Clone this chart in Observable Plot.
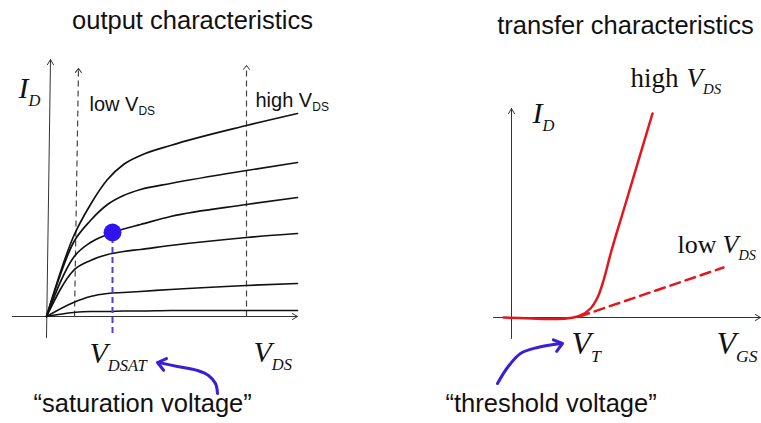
<!DOCTYPE html>
<html>
<head>
<meta charset="utf-8">
<script src="https://cdn.jsdelivr.net/npm/d3@7"></script>
<script src="https://cdn.jsdelivr.net/npm/@observablehq/plot@0.6"></script>
<style>
  html, body { margin: 0; padding: 0; background: #fff; }
  #fig { position: relative; width: 761px; height: 423px; overflow: hidden; background: #fff; }
  #fig svg { position: absolute; top: 0; background: transparent; }
</style>
</head>
<body>
<div id="fig"></div>
<script>
// ---- Output characteristics: I_D vs V_DS, one curve per gate drive ----
const vds = [0, 0.54, 0.88, 1.22, 1.54, 1.88, 2.48, 4.0, 5.02];
const idGate6 = [0, 1.60, 2.24, 2.74, 3.04, 3.22, 3.42, 3.82, 4.06];
const idGate5 = [0, 1.48, 1.92, 2.24, 2.42, 2.54, 2.66, 2.92, 3.08];
const idGate4 = [0, 1.18, 1.48, 1.64, 1.75, 1.84, 2.00, 2.24, 2.38];
const idGate3 = [0, 0.92, 1.12, 1.24, 1.30, 1.34, 1.42, 1.58, 1.66];
const idGate2 = [0, 0.28, 0.40, 0.46, 0.48, 0.50, 0.54, 0.62, 0.66];
const idGate1 = [0, 0.08, 0.10, 0.10, 0.11, 0.11, 0.12, 0.12, 0.12];
const vdsat = 1.32;   // saturation point on the middle curve
const idsat = 1.68;
const vdsLow = 0.6;
const vdsHigh = 4.0;

// ---- Transfer characteristics: I_D vs V_GS ----
const vgsHigh = [-0.16, 0.4, 0.9, 1.18, 1.38, 1.58, 1.72, 1.84, 2.0, 2.3, 2.82];
const idHigh = [0.0, -0.02, -0.03, -0.01, 0.04, 0.18, 0.4, 0.74, 1.34, 2.34, 4.08];
const vgsLow = [1.36, 4.24];
const idLow = [0.02, 1.0];
const vt = 1.3;

const gateCurves = [idGate1, idGate2, idGate3, idGate4, idGate5, idGate6];
const outputCurves = gateCurves.flatMap((ids, k) => vds.map((v, i) => ({vds: v, id: ids[i], gate: k})));
const transferHigh = vgsHigh.map((v, i) => ({vgs: v, id: idHigh[i]}));
const transferLow = vgsLow.map((v, i) => ({vgs: v, id: idLow[i]}));

// annotation arrows (chart units)
const satArrow = [[3.42, -1.54], [3.38, -1.34], [3.24, -1.18], [3.02, -1.08], [2.62, -1.0], [2.24, -0.92]];
const thrArrow = [[-0.28, -1.32], [-0.08, -1.0], [0.18, -0.72], [0.52, -0.6], [1.0, -0.52]];

const sans = "'Liberation Sans', Arial, Helvetica, sans-serif";
const serif = "'Liberation Serif', 'Times New Roman', Times, serif";
const ink = "#111";
const axisInk = "#333";
const blue = "#3a1fd8";
const red = "#e3161f";

function label(s, x, y, o = {}) {
  return Plot.text([s], {x: [x], y: [y], text: (d) => d, textAnchor: "start", lineAnchor: "bottom",
    fill: ink, fontFamily: sans, fontSize: 20, ...o});
}
const mathLabel = (s, x, y, o = {}) => label(s, x, y, {fontFamily: serif, fontStyle: "italic", fontSize: 30, ...o});

// open arrowhead drawn by Plot.vector, tip at the anchor point
const chevron = (w, h) => ({
  draw(context) {
    context.moveTo(-w, h);
    context.lineTo(0, 0);
    context.lineTo(w, h);
  }
});
function head(x, y, rotate, size, o = {}) {
  return Plot.vector([0], {x: [x], y: [y], length: 1, rotate, anchor: "start",
    shape: chevron(size, size * 1.3), stroke: axisInk, strokeWidth: 1, ...o});
}
const axisArrow = (x1, y1, x2, y2) =>
  Plot.arrow([{x1, y1, x2, y2}], {x1: "x1", y1: "y1", x2: "x2", y2: "y2", stroke: axisInk, strokeWidth: 1, headLength: 9, headAngle: 60});

// turn "V_DS" into V with a subscript DS
function typesetSubscripts(svg) {
  const ns = "http://www.w3.org/2000/svg";
  svg.querySelectorAll("text").forEach((t) => {
    const s = t.textContent;
    const i = s.indexOf("_");
    if (i < 0) return;
    const g = t.closest("g");
    const italic = g && g.getAttribute("font-style") === "italic";
    t.textContent = "";
    const a = document.createElementNS(ns, "tspan");
    a.textContent = s.slice(0, i);
    const b = document.createElementNS(ns, "tspan");
    b.textContent = s.slice(i + 1);
    b.setAttribute("font-size", italic ? "0.55em" : "0.6em");
    b.setAttribute("dy", italic ? "0.5em" : "0.4em");
    t.append(a, b);
  });
  return svg;
}

const output = Plot.plot({
  width: 380, height: 423,
  marginLeft: 46, marginRight: 84, marginTop: 66, marginBottom: 107,
  x: {domain: [0, 5], axis: null},
  y: {domain: [0, 5], axis: null},
  marks: [
    axisArrow(-0.68, 0, 5.02, 0),
    axisArrow(0, -0.42, 0.08, 5.14),
    Plot.link([0], {x1: [vdsLow - 0.04], y1: [0], x2: [vdsLow + 0.04], y2: [4.96], stroke: "#444", strokeWidth: 1.2, strokeDasharray: "6,4"}),
    head(vdsLow + 0.04, 4.96, 1, 3),
    Plot.link([0], {x1: [vdsHigh], y1: [0], x2: [vdsHigh], y2: [5.02], stroke: "#444", strokeWidth: 1.2, strokeDasharray: "6,4"}),
    head(vdsHigh, 5.02, 0, 3),
    Plot.line(outputCurves, {x: "vds", y: "id", z: "gate", curve: "monotone-x", stroke: ink, strokeWidth: 1.7}),
    Plot.ruleX([vdsat], {y1: -0.34, y2: idsat, stroke: "#5140d8", strokeWidth: 2, strokeDasharray: "6,4"}),
    Plot.dot([0], {x: [vdsat], y: [idsat], r: 9, fill: "#2f14f0", stroke: "none"}),
    Plot.line(satArrow, {x: (d) => d[0], y: (d) => d[1], curve: "catmull-rom", stroke: blue, strokeWidth: 3}),
    head(2.22, -0.92, 284, 6, {stroke: blue, strokeWidth: 3}),
    label("output characteristics", 2.92, 5.76, {textAnchor: "middle", fontSize: 25.5}),
    mathLabel("I_D", -0.56, 4.38),
    label("low V_DS", 0.86, 4.12),
    label("high V_DS", 4.18, 4.2),
    mathLabel("V_DSAT", 0.86, -0.92),
    mathLabel("V_DS", 4.14, -0.9),
    label("\u201Csaturation voltage\u201D", -0.26, -1.9, {fontSize: 25.5})
  ]
});

const transfer = Plot.plot({
  width: 381, height: 423,
  marginLeft: 131, marginRight: 0, marginTop: 67, marginBottom: 106,
  x: {domain: [0, 5], axis: null},
  y: {domain: [0, 5], axis: null},
  marks: [
    axisArrow(-0.36, 0, 4.98, 0),
    axisArrow(0, -0.42, 0, 4.18),
    Plot.line(transferLow, {x: "vgs", y: "id", stroke: red, strokeWidth: 2.5, strokeDasharray: "10,6"}),
    Plot.line(transferHigh, {x: "vgs", y: "id", curve: "catmull-rom", stroke: red, strokeWidth: 2.5}),
    Plot.line(thrArrow, {x: (d) => d[0], y: (d) => d[1], curve: "catmull-rom", stroke: blue, strokeWidth: 3}),
    head(1.02, -0.52, 74, 6, {stroke: blue, strokeWidth: 3}),
    label("transfer characteristics", 2.28, 5.68, {textAnchor: "middle", fontSize: 25.5}),
    mathLabel("I_D", 0.42, 3.9),
    label("high", 2.38, 4.62, {fontFamily: serif, fontSize: 27}),
    mathLabel("V_DS", 3.5, 4.62, {fontSize: 27}),
    label("low", 3.32, 1.3, {fontFamily: serif, fontSize: 26}),
    mathLabel("V_DS", 4.22, 1.3, {fontSize: 26}),
    mathLabel("V_T", vt - 0.1, -0.72, {fontSize: 32}),
    mathLabel("V_GS", 4.1, -0.72, {fontSize: 32}),
    label("\u201Cthreshold voltage\u201D", -1.32, -1.88, {fontSize: 25.5})
  ]
});

const fig = document.getElementById("fig");
typesetSubscripts(output);
typesetSubscripts(transfer);
output.style.left = "0px";
transfer.style.left = "380px";
fig.append(output, transfer);
</script>
</body>
</html>
